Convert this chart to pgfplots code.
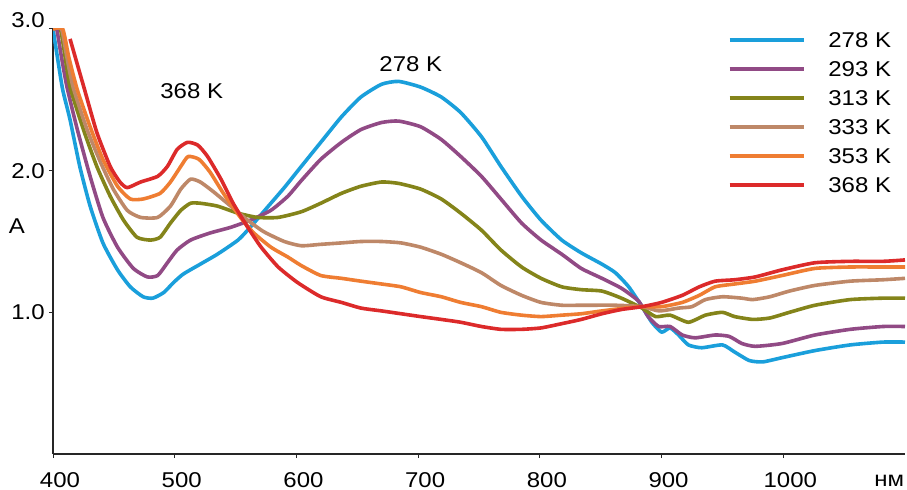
\documentclass[border=0pt]{standalone}
\usepackage{fontspec}
\setmainfont{Liberation Sans}[FakeStretch=1.12]
\usepackage{pgfplots}
\pgfplotsset{compat=1.18}
\definecolor{cA}{HTML}{1A9FDB}
\definecolor{cB}{HTML}{914A85}
\definecolor{cC}{HTML}{84841A}
\definecolor{cD}{HTML}{BE8868}
\definecolor{cE}{HTML}{EF7D32}
\definecolor{cF}{HTML}{DC2A2A}
\begin{document}
\fontsize{21.5}{26}\selectfont
\begin{tikzpicture}
\useasboundingbox (-53bp,-36bp) rectangle (854bp,454bp);
\begin{axis}[
  scale only axis, width=852bp, height=425bp,
  xmin=400, xmax=1100, ymin=0, ymax=3,
  axis x line=bottom, axis y line=left,
  axis line style={-, line width=1.2bp, black!85},
  xtick={400,500,...,1000}, xticklabels={400,500,600,700,800,900,1000},
  ytick={1,2}, yticklabels={1.0,2.0},
  extra y ticks={3}, extra y tick labels={3.0},
  extra y tick style={tick label style={yshift=9bp}},
  tick align=outside, major tick length=4bp,
  tick style={black!85, line width=1bp},
  xticklabel style={yshift=-7bp, xshift=7bp},
  yticklabel style={xshift=3bp},
  clip mode=individual,
  every axis plot/.append style={line width=3.6bp, line join=round, smooth, tension=0.35},
  legend image code/.code={\draw[#1] (0bp,0bp) -- (74bp,0bp);},
  legend cell align=left,
  legend style={at={(rel axis cs:0.792,0.992)}, anchor=north west,
    draw=none, fill=none, inner sep=0pt, outer sep=0pt,
    row sep=14bp, column sep=23bp,
    nodes={inner sep=0pt, text height=15bp, text depth=0pt}},
]
% 278 K
\addplot[cA] coordinates {(400,3.00) (404,2.78) (408,2.57) (414,2.36) (422,2.03) (430.5,1.75) (441,1.49) (453,1.30) (463.5,1.18) (474,1.11) (482,1.10) (491,1.14) (499,1.21) (507,1.27) (521,1.34) (535,1.41) (552,1.51) (562,1.60) (576,1.74) (590,1.88) (604,2.03) (620,2.20) (637,2.38) (653,2.52) (670,2.61) (684,2.63) (702,2.59) (719,2.52) (735,2.41) (752,2.24) (768,2.03) (785,1.82) (801,1.65) (818,1.51) (834,1.42) (851,1.34) (862,1.28) (873,1.18) (884,1.04) (892,0.93) (900,0.86) (907,0.89) (914,0.84) (922,0.77) (933,0.75) (950,0.77) (960,0.72) (972,0.66) (983,0.65) (999,0.68) (1026,0.73) (1055,0.77) (1082,0.79) (1100,0.79)};
\addlegendentry{278 K}
% 293 K
\addplot[cB] coordinates {(400,3.00) (403,3.00) (407,2.80) (411.5,2.59) (420,2.29) (430.5,1.96) (441,1.67) (453,1.46) (466,1.31) (477.5,1.25) (486,1.26) (494,1.35) (502,1.44) (513,1.51) (529,1.56) (546,1.60) (562,1.65) (579,1.72) (593,1.82) (604,1.93) (620,2.08) (637,2.20) (653,2.29) (670,2.34) (684,2.35) (702,2.31) (719,2.22) (735,2.10) (752,1.96) (768,1.80) (785,1.63) (801,1.51) (818,1.41) (834,1.31) (851,1.24) (867,1.17) (881,1.08) (889,0.97) (897.6,0.90) (907,0.90) (917,0.84) (927.6,0.82) (944,0.84) (955.6,0.83) (966,0.78) (977,0.76) (999,0.78) (1026,0.84) (1055,0.88) (1082,0.90) (1100,0.90)};
\addlegendentry{293 K}
% 313 K
\addplot[cC] coordinates {(400,3.00) (406,3.00) (410,2.80) (414,2.59) (425,2.29) (436,2.03) (447,1.82) (458,1.65) (469,1.53) (480,1.51) (488,1.53) (496.5,1.63) (505,1.72) (513,1.77) (521,1.77) (535,1.75) (552,1.70) (568,1.67) (585,1.67) (604,1.71) (620,1.77) (637,1.84) (653,1.89) (670,1.92) (684,1.91) (702,1.87) (719,1.80) (735,1.70) (752,1.58) (768,1.44) (785,1.32) (801,1.24) (818,1.18) (834,1.16) (851,1.15) (867,1.10) (884,1.03) (895,0.97) (907,0.98) (922,0.93) (936,0.98) (950,1.00) (960,0.97) (975,0.95) (989,0.96) (1005,1.00) (1026,1.05) (1055,1.09) (1082,1.10) (1100,1.10)};
\addlegendentry{313 K}
% 333 K
\addplot[cD] coordinates {(400,3.00) (407,3.00) (411,2.82) (416.5,2.59) (428,2.29) (439,2.06) (449.5,1.87) (461,1.72) (472,1.67) (486,1.67) (496.5,1.75) (505,1.87) (513,1.94) (521,1.92) (532,1.85) (546,1.75) (560,1.65) (573,1.57) (590,1.50) (604,1.47) (620,1.48) (637,1.49) (653,1.50) (670,1.50) (686,1.49) (702,1.46) (719,1.41) (735,1.35) (752,1.28) (768,1.19) (785,1.12) (801,1.07) (818,1.05) (834,1.05) (862,1.05) (884,1.04) (898,1.01) (914,1.03) (925,1.04) (936,1.09) (950,1.11) (966,1.10) (975,1.09) (989,1.11) (1005,1.15) (1026,1.19) (1055,1.22) (1082,1.23) (1100,1.24)};
\addlegendentry{333 K}
% 353 K
\addplot[cE] coordinates {(400,3.00) (408,3.00) (413,2.80) (420,2.57) (430.5,2.31) (441,2.08) (453,1.89) (463.5,1.80) (474,1.80) (488,1.84) (496.5,1.92) (505,2.03) (511,2.10) (520,2.08) (529,1.99) (540,1.84) (554,1.67) (565,1.56) (579,1.46) (593,1.39) (604,1.33) (620,1.26) (637,1.24) (653,1.22) (670,1.20) (686,1.18) (702,1.14) (719,1.11) (735,1.07) (752,1.04) (768,1.00) (785,0.98) (801,0.97) (818,0.98) (834,0.99) (851,1.01) (870,1.03) (884,1.04) (900,1.04) (917,1.07) (931,1.12) (944,1.18) (960,1.20) (977,1.22) (999,1.26) (1026,1.31) (1055,1.32) (1082,1.32) (1100,1.32)};
\addlegendentry{353 K}
% 368 K
\addplot[cF] coordinates {(414,2.93) (420,2.75) (426,2.57) (436,2.27) (447,2.03) (455,1.92) (461,1.88) (472,1.92) (486,1.96) (494,2.03) (502,2.15) (510.5,2.20) (519,2.18) (527,2.10) (538,1.94) (548,1.77) (560,1.60) (571,1.46) (585,1.32) (601,1.21) (620,1.11) (637,1.07) (653,1.03) (670,1.01) (686,0.99) (702,0.97) (719,0.95) (735,0.93) (752,0.90) (768,0.88) (785,0.88) (801,0.89) (818,0.92) (834,0.95) (851,0.99) (867,1.02) (884,1.04) (900,1.07) (917,1.12) (931,1.18) (944,1.22) (960,1.23) (977,1.25) (999,1.30) (1026,1.35) (1055,1.36) (1082,1.36) (1100,1.37)};
\addlegendentry{368 K}
\node at (axis cs:694,2.75) {278 K};
\node at (axis cs:514,2.56) {368 K};
\node[xshift=-36bp] at (axis cs:400,1.61) {A};
\node[yshift=-27bp] at (axis cs:1087,0) {нм};
\end{axis}
\end{tikzpicture}
\end{document}
